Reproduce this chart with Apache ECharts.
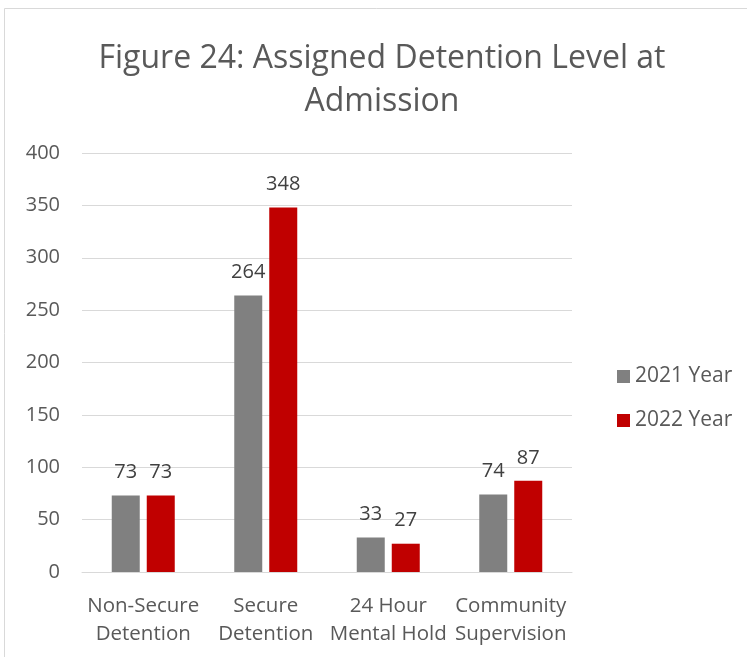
<!DOCTYPE html>
<html><head><meta charset="utf-8">
<script src="https://cdn.jsdelivr.net/npm/echarts@6/dist/echarts.min.js"></script>
<style>html,body{margin:0;padding:0;background:#fff}#c{width:747px;height:657px}</style>
</head><body><div id="c"></div>
<script>
const categories = ['Non-Secure\nDetention', 'Secure\nDetention', '24 Hour\nMental Hold', 'Community\nSupervision'];
const seriesNames = ['2021 Year', '2022 Year'];
const values2021 = [73, 264, 33, 74];
const values2022 = [73, 348, 27, 87];
const yTicks = [0, 50, 100, 150, 200, 250, 300, 350, 400];

const FONT = '"Open Sans", "Noto Sans", sans-serif';
const chart = echarts.init(document.getElementById('c'));
const labelOpt = {show: true, position: 'top', distance: 13, color: '#404040', fontSize: 20, fontFamily: FONT};
chart.setOption({
  animation: false,
  title: {
    text: 'Figure 24: Assigned Detention Level at\nAdmission',
    left: 377, top: 32, textAlign: 'center',
    textStyle: {color: '#595959', fontSize: 32, fontWeight: 'normal', fontFamily: FONT, lineHeight: 43}
  },
  graphic: [{type: 'rect', shape: {x: 4.5, y: 8.5, width: 760, height: 700}, style: {fill: 'none', stroke: '#d9d9d9', lineWidth: 1}, silent: true}],
  legend: {
    orient: 'vertical', left: 612, top: 361, itemWidth: 13, itemHeight: 13, itemGap: 23,
    textStyle: {color: '#595959', fontSize: 21, fontFamily: FONT},
    icon: 'rect', data: seriesNames
  },
  grid: {left: 82, right: 175, top: 153, bottom: 85},
  xAxis: {
    type: 'category', data: categories,
    axisLine: {lineStyle: {color: '#d9d9d9', width: 1}}, axisTick: {show: false},
    axisLabel: {color: '#595959', fontSize: 20.5, fontFamily: FONT, margin: 20, lineHeight: 28, interval: 0}
  },
  yAxis: {
    type: 'value', min: yTicks[0], max: yTicks[yTicks.length - 1], interval: 50,
    axisLine: {show: false}, axisTick: {show: false},
    splitLine: {lineStyle: {color: '#d9d9d9', width: 1}},
    axisLabel: {color: '#595959', fontSize: 20, fontFamily: FONT, margin: 22}
  },
  series: [
    {name: seriesNames[0], type: 'bar', data: values2021, barWidth: 28, barGap: '25%', itemStyle: {color: '#808080'}, label: labelOpt},
    {name: seriesNames[1], type: 'bar', data: values2022, barWidth: 28, itemStyle: {color: '#C00000'}, label: labelOpt}
  ]
});
</script></body></html>
